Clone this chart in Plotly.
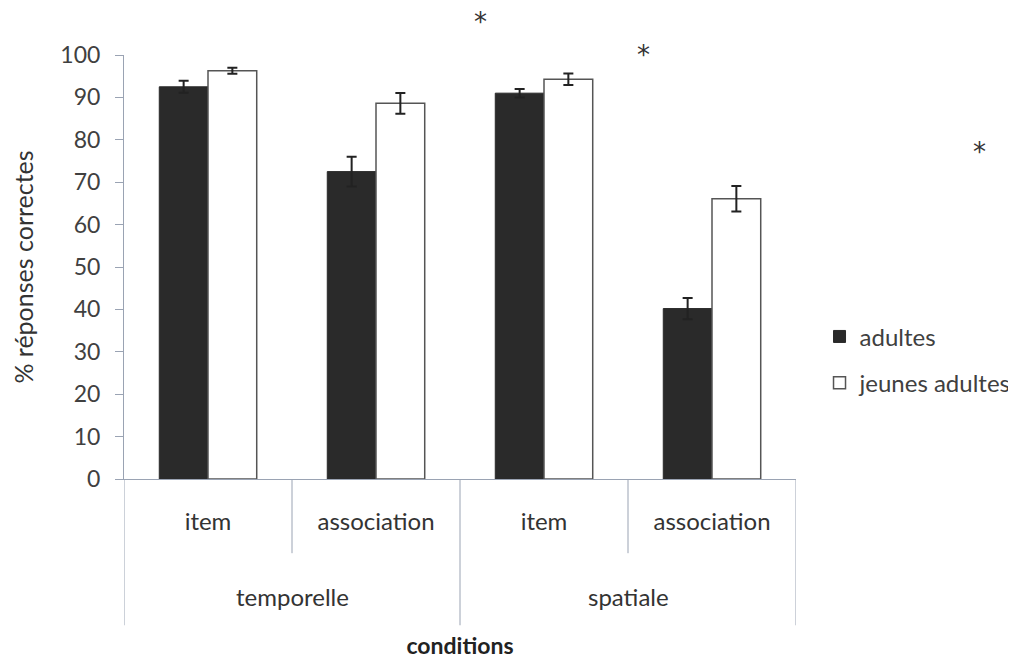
import plotly.graph_objects as go

conditions = ["temporelle", "temporelle", "spatiale", "spatiale"]
types = ["item", "association", "item", "association"]
adultes = [92.5, 72.5, 91.0, 40.2]
adultes_err = [1.4, 3.5, 1.0, 2.5]
jeunes = [96.3, 88.6, 94.3, 66.1]
jeunes_err = [0.7, 2.45, 1.35, 3.0]
y_ticks = [0, 10, 20, 30, 40, 50, 60, 70, 80, 90, 100]

FONT = "Lato"
AXIS_COLOR = "#9aa3b3"
x_idx = list(range(len(types)))

fig = go.Figure()
fig.add_trace(go.Bar(
    x=x_idx, y=adultes, name="adultes",
    marker=dict(color="#2a2a2a", line=dict(color="#2a2a2a", width=1)),
    error_y=dict(type="data", array=adultes_err, color="#222222", thickness=2, width=5),
    legendgroup="a",
))
fig.add_trace(go.Bar(
    x=x_idx, y=jeunes, name="jeunes adultes",
    marker=dict(color="white", line=dict(color="#555555", width=1.5)),
    error_y=dict(type="data", array=jeunes_err, color="#222222", thickness=2, width=5),
    legendgroup="b",
))

fig.update_layout(
    width=1008, height=653,
    margin=dict(l=116, r=220, t=47, b=182, autoexpand=False),
    paper_bgcolor="white", plot_bgcolor="white",
    barmode="group", bargap=0.42, bargroupgap=0,
    font=dict(family=FONT, size=24, color="#404040"),
    showlegend=True,
    legend=dict(x=1.035, y=0.281, xanchor="left", yanchor="middle",
                font=dict(size=24, color="#404040"), tracegroupgap=12,
                bgcolor="rgba(0,0,0,0)"),
    xaxis=dict(
        range=[-0.5, len(types) - 0.5], tickvals=x_idx, ticktext=types,
        showline=True, linecolor=AXIS_COLOR, linewidth=1, automargin=False,
        showgrid=False, zeroline=False, ticks="", ticklabelstandoff=21,
        tickfont=dict(size=24, color="#333333"),
        title=dict(text="<b>conditions</b>", font=dict(size=23, color="#222222"), standoff=104),
    ),
    yaxis=dict(
        range=[0, 100], tickvals=y_ticks, showgrid=False, zeroline=False, automargin=False,
        showline=True, linecolor=AXIS_COLOR, linewidth=1,
        ticks="outside", ticklen=8, tickcolor=AXIS_COLOR, ticklabelstandoff=10,
        tickfont=dict(size=23, color="#404040"),
        title=dict(text="% réponses correctes", font=dict(size=25, color="#333333"), standoff=21),
    ),
)

# category dividers and outer (condition) labels
inner_len = -0.175
outer_len = -0.345
groups = []
for i, c in enumerate(conditions):
    if not groups or groups[-1][0] != c:
        groups.append([c, i, i])
    else:
        groups[-1][2] = i
for c, start, end in groups:
    fig.add_annotation(x=(start + end) / 2, y=-0.278, xref="x", yref="paper", text=c,
                       showarrow=False, yanchor="middle",
                       font=dict(size=24, color="#333333"))
    for b in range(start, end):
        fig.add_shape(type="line", x0=b + 0.5, x1=b + 0.5, y0=0, y1=inner_len,
                      xref="x", yref="paper", line=dict(color=AXIS_COLOR, width=1))
edges = [groups[0][1] - 0.5] + [g[2] + 0.5 for g in groups]
for e in edges:
    fig.add_shape(type="line", x0=e, x1=e, y0=0, y1=outer_len,
                  xref="x", yref="paper", line=dict(color=AXIS_COLOR, width=1))

stars = [(0.53, 1.078), (0.785, 1.0), (1.285, 0.771)]
for sx, sy in stars:
    fig.add_annotation(x=sx, y=sy, xref="paper", yref="paper", text="*",
                       showarrow=False, yanchor="middle",
                       font=dict(family="DejaVu Sans", size=26, color="#333333"))

fig.write_html("out.html")
